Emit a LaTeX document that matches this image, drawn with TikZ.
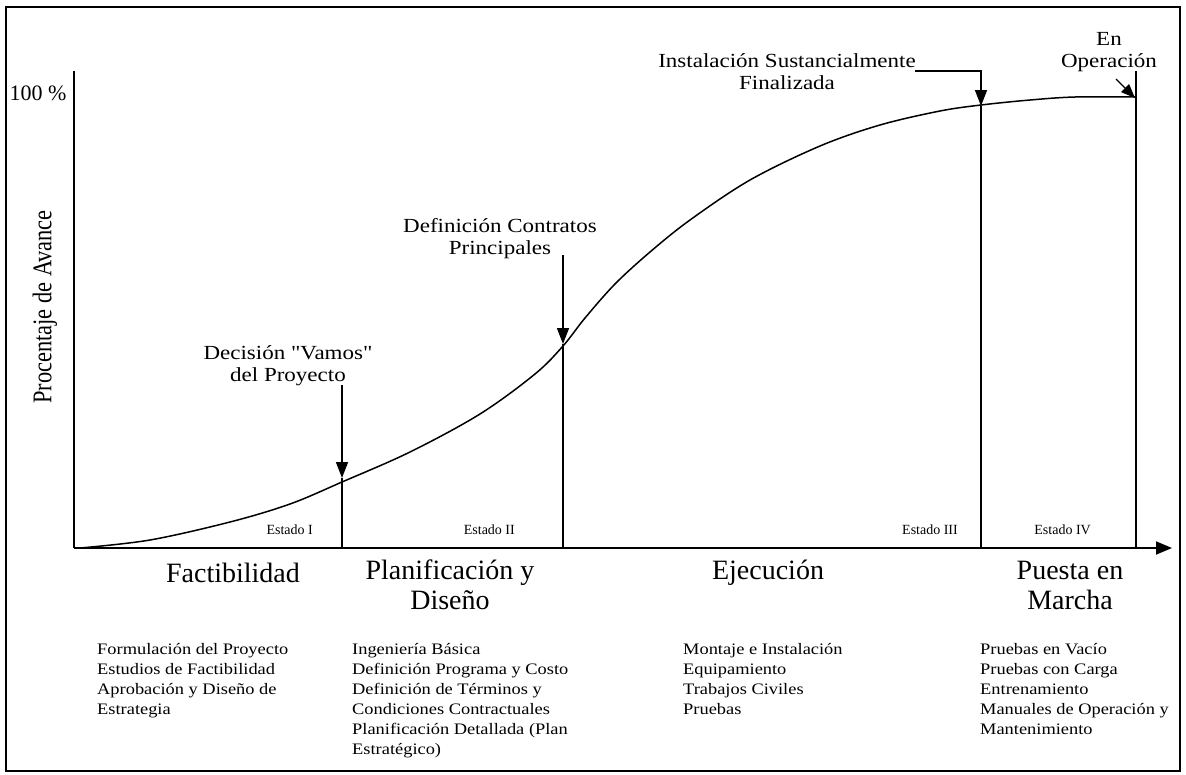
\documentclass[tikz,border=0pt]{standalone}
\usepackage{fontspec}
\setmainfont{Liberation Serif}
\newfontfamily\widefont[FakeStretch=1.15]{Liberation Serif}
\newfontfamily\narrowfont[FakeStretch=0.83]{Liberation Serif}
\usetikzlibrary{arrows.meta}
\newcommand{\firstline}{\rule{0pt}{14pt}}
\begin{document}
\begin{tikzpicture}[x=1pt,y=-1pt,
  axisline/.style={line width=1.8pt},
  stageline/.style={line width=1.6pt},
  pointer/.style={line width=1.6pt,-{Triangle[length=16pt,width=12pt]}},
  milestone/.style={align=center,inner sep=0pt,font=\widefont\fontsize{20}{22}\selectfont},
  phase/.style={align=center,inner sep=0pt,font=\fontsize{28}{30}\selectfont},
  stagetag/.style={inner sep=0pt,font=\fontsize{14}{16}\selectfont},
  tasklist/.style={align=left,inner sep=0pt,anchor=north west,font=\widefont\fontsize{16}{20}\selectfont}]
\useasboundingbox (0,0) rectangle (1186,774);
% outer frame
\draw[line width=2pt] (6,7) rectangle (1180,771);

% axes
\coordinate (origin) at (74,548);
\coordinate (ytop) at (74,71);
\coordinate (xend) at (1172,548);
\draw[axisline] (ytop) -- (origin);
\draw[axisline,-{Triangle[length=16pt,width=13pt]}] (origin) -- (xend);
\node[inner sep=0pt,font=\fontsize{22}{24}\selectfont] (pct) at (38,93) {100 \%};
\node[rotate=90,inner sep=0pt,font=\narrowfont\fontsize{27}{29}\selectfont] (ylabel) at (45,307) {Procentaje de Avance};

% progress curve
\draw[line width=1.5pt] plot[smooth,tension=0.55] coordinates {
  (80,548) (150,540) (230,522) (290,504) (342,482) (410,452) (480,414)
  (535,374) (563,346) (585,318) (615,284) (650,252) (690,220) (750,180)
  (820,146) (880,125) (940,111) (981,105) (1030,100) (1075,97) (1136,97)};

% stage boundaries
\coordinate (s1top) at (342,385);
\coordinate (s1hit) at (342,478);
\coordinate (s1bot) at (342,548);
\draw[pointer] (s1top) -- (s1hit);
\draw[stageline] (s1hit) -- (s1bot);

\coordinate (s2top) at (563,255);
\coordinate (s2hit) at (563,344);
\coordinate (s2bot) at (563,548);
\draw[pointer] (s2top) -- (s2hit);
\draw[stageline] (s2hit) -- (s2bot);

\coordinate (s3lead) at (915,71);
\coordinate (s3top) at (981,71);
\coordinate (s3hit) at (981,106);
\coordinate (s3bot) at (981,548);
\draw[pointer] (s3lead) -- (s3top) -- (s3hit);
\draw[stageline] (s3hit) -- (s3bot);

\coordinate (s4top) at (1136,71);
\coordinate (s4bot) at (1136,548);
\coordinate (s4tail) at (1116,79);
\coordinate (s4hit) at (1135,98);
\draw[stageline] (s4top) -- (s4bot);
\draw[line width=1.2pt,-{Triangle[length=14pt,width=11pt]}] (s4tail) -- (s4hit);

% milestone labels
\node[milestone] (m1) at (288,366) {Decisión "Vamos"\\del Proyecto};
\node[milestone] (m2) at (500,239) {Definición Contratos\\Principales};
\node[milestone] (m3) at (787,72) {Instalación Sustancialmente\\Finalizada};
\node[milestone] (m4) at (1109,52) {En\\Operación};

% stage tags
\node[stagetag,anchor=east] (e1) at (313,530) {Estado I};
\node[stagetag,anchor=east] (e2) at (515,530) {Estado II};
\node[stagetag,anchor=east] (e3) at (958,530) {Estado III};
\node[stagetag,anchor=east] (e4) at (1091,530) {Estado IV};

% phase names
\node[phase] (p1) at (233,573) {Factibilidad};
\node[phase] (p2) at (450,585) {Planificación y\\Diseño};
\node[phase] (p3) at (768,573) {Ejecución};
\node[phase] (p4) at (1070,585) {Puesta en\\Marcha};

% activities of each phase
\node[tasklist] (t1) at (97,640) {\firstline Formulación del Proyecto\\Estudios de Factibilidad\\Aprobación y Diseño de\\Estrategia};
\node[tasklist] (t2) at (352,640) {\firstline Ingeniería Básica\\Definición Programa y Costo\\Definición de Términos y\\Condiciones Contractuales\\Planificación Detallada (Plan\\Estratégico)};
\node[tasklist] (t3) at (683,640) {\firstline Montaje e Instalación\\Equipamiento\\Trabajos Civiles\\Pruebas};
\node[tasklist] (t4) at (980,640) {\firstline Pruebas en Vacío\\Pruebas con Carga\\Entrenamiento\\Manuales de Operación y\\Mantenimiento};
\end{tikzpicture}
\end{document}
